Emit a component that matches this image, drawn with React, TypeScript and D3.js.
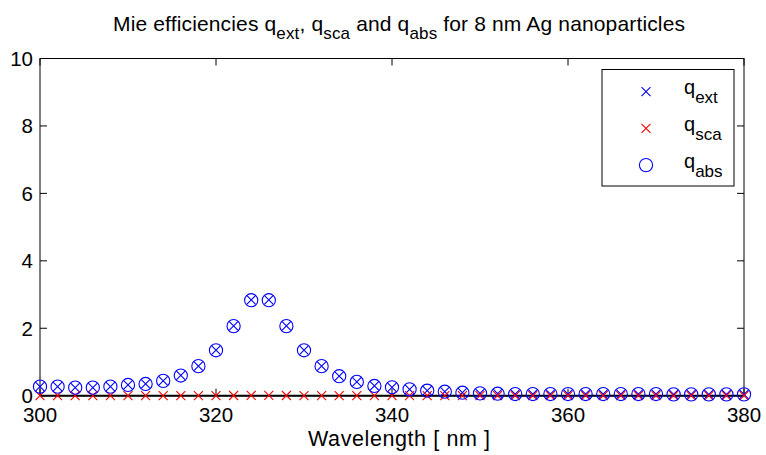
import React from "react";
import * as d3 from "d3";

const wavelengths: number[] = [
  300, 302, 304, 306, 308, 310, 312, 314, 316, 318, 320, 322, 324, 326, 328, 330, 332, 334, 336, 338,
  340, 342, 344, 346, 348, 350, 352, 354, 356, 358, 360, 362, 364, 366, 368, 370, 372, 374, 376, 378, 380,
];
const qExt: number[] = [
  0.27, 0.27, 0.24, 0.24, 0.27, 0.32, 0.35, 0.44, 0.6, 0.88, 1.35, 2.07, 2.84, 2.84, 2.07, 1.35, 0.88, 0.58, 0.41, 0.29,
  0.25, 0.19, 0.15, 0.12, 0.09, 0.07, 0.06, 0.05, 0.05, 0.05, 0.05, 0.05, 0.05, 0.05, 0.05, 0.05, 0.04, 0.04, 0.04, 0.04, 0.04,
];
const qSca: number[] = [
  0.001, 0.001, 0.001, 0.001, 0.001, 0.001, 0.001, 0.001, 0.002, 0.003, 0.004, 0.006, 0.008, 0.008, 0.006, 0.004, 0.003, 0.002, 0.001, 0.001,
  0.001, 0.001, 0.001, 0.001, 0.001, 0.001, 0.001, 0.001, 0.001, 0.001, 0.001, 0.001, 0.001, 0.001, 0.001, 0.001, 0.001, 0.001, 0.001, 0.001, 0.001,
];
const qAbs: number[] = qExt.map((v, i) => v - qSca[i]);

const xTicks: number[] = [300, 320, 340, 360, 380];
const yTicks: number[] = [0, 2, 4, 6, 8, 10];
const legendLabels: { main: string; sub: string }[] = [
  { main: "q", sub: "ext" },
  { main: "q", sub: "sca" },
  { main: "q", sub: "abs" },
];

const W = 766;
const H = 455;
const left = 40;
const right = 744;
const top = 58.5;
const bottom = 395.7;
const FONT = "'Liberation Sans', Arial, Helvetica, sans-serif";
const BLUE = "#0000ff";
const RED = "#ff0000";
const TL = 7;

function XMark({ x, y, c, s = 4.5 }: { x: number; y: number; c: string; s?: number }) {
  return (
    <path
      d={`M${x - s},${y - s}L${x + s},${y + s}M${x - s},${y + s}L${x + s},${y - s}`}
      stroke={c}
      strokeWidth={1.1}
      fill="none"
    />
  );
}

function OMark({ x, y, c }: { x: number; y: number; c: string }) {
  return <circle cx={x} cy={y} r={6.6} stroke={c} strokeWidth={1.1} fill="none" />;
}

export default function App() {
  const xs = d3.scaleLinear().domain([300, 380]).range([left, right]);
  const ys = d3.scaleLinear().domain([0, 10]).range([bottom, top]);

  return (
    <svg
      width={W}
      height={H}
      style={{ position: "absolute", left: 0, top: 0, background: "#fff" }}
      fontFamily={FONT}
    >
      <rect x={0} y={0} width={W} height={H} fill="#fff" />
      {/* title */}
      <text x={113} y={31} fontSize={21} textAnchor="start" fill="#000" textLength={572} lengthAdjust="spacing">
        <tspan>Mie efficiencies q</tspan>
        <tspan fontSize={17} dy={8}>ext</tspan>
        <tspan dy={-8}>, q</tspan>
        <tspan fontSize={17} dy={8}>sca</tspan>
        <tspan dy={-8}> and q</tspan>
        <tspan fontSize={17} dy={8}>abs</tspan>
        <tspan dy={-8}> for 8 nm Ag nanoparticles</tspan>
      </text>

      {/* axes box */}
      <rect x={left} y={top} width={right - left} height={bottom - top} fill="#fff" stroke="#000" strokeWidth={1} />
      <line x1={left} x2={right} y1={ys(0)} y2={ys(0)} stroke="#000" strokeWidth={2} />

      {xTicks.map((t) => (
        <g key={"xt" + t}>
          <line x1={xs(t)} x2={xs(t)} y1={bottom} y2={bottom - TL} stroke="#000" strokeWidth={1} />
          <line x1={xs(t)} x2={xs(t)} y1={top} y2={top + TL} stroke="#000" strokeWidth={1} />
          <text x={xs(t)} y={421.5} fontSize={20.5} textAnchor="middle" fill="#000">
            {t}
          </text>
        </g>
      ))}
      {yTicks.map((t) => (
        <g key={"yt" + t}>
          <line x1={left} x2={left + TL} y1={ys(t)} y2={ys(t)} stroke="#000" strokeWidth={1} />
          <line x1={right} x2={right - TL} y1={ys(t)} y2={ys(t)} stroke="#000" strokeWidth={1} />
          <text x={33} y={ys(t) + 7.5} fontSize={20.5} textAnchor="end" fill="#000">
            {t}
          </text>
        </g>
      ))}

      <text x={308} y={446} fontSize={21.5} textAnchor="start" fill="#000" textLength={182} lengthAdjust="spacing">
        Wavelength [ nm ]
      </text>

      {/* data */}
      {wavelengths.map((w, i) => (
        <XMark key={"e" + i} x={xs(w)} y={ys(qExt[i])} c={BLUE} />
      ))}
      {wavelengths.map((w, i) => (
        <XMark key={"s" + i} x={xs(w)} y={ys(qSca[i])} c={RED} />
      ))}
      {wavelengths.map((w, i) => (
        <OMark key={"a" + i} x={xs(w)} y={ys(qAbs[i])} c={BLUE} />
      ))}

      {/* legend */}
      <rect x={602} y={69.5} width={132} height={116.5} fill="#fff" stroke="#000" strokeWidth={1} />
      {legendLabels.map((l, i) => {
        const cy = 91.7 + i * 36.7;
        const c = i === 1 ? RED : BLUE;
        return (
          <g key={"lg" + i}>
            {i === 2 ? <OMark x={646} y={cy} c={c} /> : <XMark x={646} y={cy} c={c} />}
            <text x={684} y={cy + 2.6} fontSize={20} fill="#000">
              <tspan>{l.main}</tspan>
              <tspan fontSize={17} dy={9}>
                {l.sub}
              </tspan>
            </text>
          </g>
        );
      })}
    </svg>
  );
}
